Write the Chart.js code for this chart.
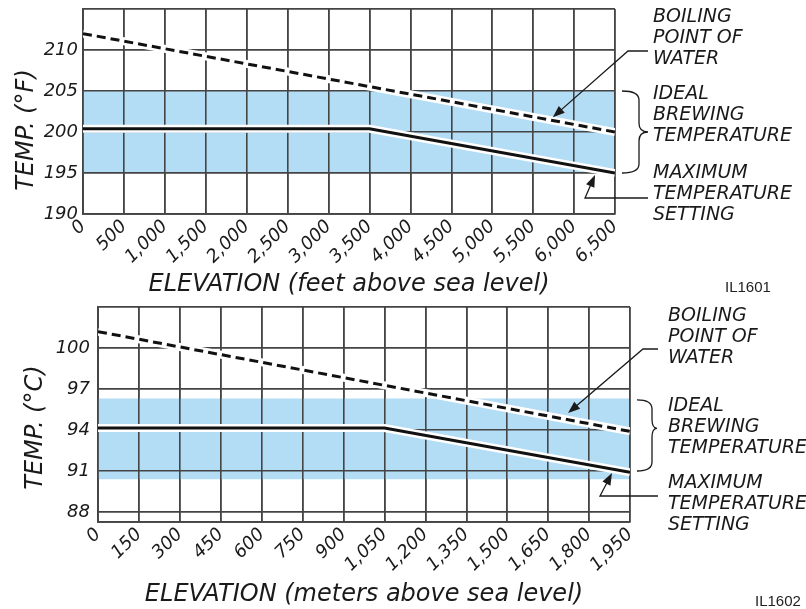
<!DOCTYPE html>
<html><head><meta charset="utf-8">
<script src="https://cdn.jsdelivr.net/npm/chart.js@4.4.0/dist/chart.umd.min.js"></script>
<style>
html,body{margin:0;padding:0;background:#fff;width:806px;height:609px;overflow:hidden}
.box{position:absolute;left:0;width:806px}
#b1{top:0;height:300px}
#b2{top:300px;height:309px}
canvas{display:block}
</style></head><body>
<div class="box" id="b1"><canvas id="c1" width="806" height="300"></canvas></div>
<div class="box" id="b2"><canvas id="c2" width="806" height="309"></canvas></div>
<script>
// ---------- Top chart: °F vs elevation in feet ----------
const feetTicks = [0,500,1000,1500,2000,2500,3000,3500,4000,4500,5000,5500,6000,6500];
const feetTickLabels = ['0','500','1,000','1,500','2,000','2,500','3,000','3,500','4,000','4,500','5,000','5,500','6,000','6,500'];
const fTicks = [190,195,200,205,210,215];
const fTickLabels = ['190','195','200','205','210',''];
const boilFeet = [0, 6500];
const boilF = [212, 200];
const maxFeet = [0, 3500, 6500];
const maxF = [200.4, 200.4, 195];
const bandFeet = [0, 6500];
const bandFHigh = [205, 205];
const bandFLow = [195, 195];

// ---------- Bottom chart: °C vs elevation in meters ----------
const meterTicks = [0,150,300,450,600,750,900,1050,1200,1350,1500,1650,1800,1950];
const meterTickLabels = ['0','150','300','450','600','750','900','1,050','1,200','1,350','1,500','1,650','1,800','1,950'];
const cTicks = [87.27,88,91,94,97,100,103];
const cTickLabels = ['','88','91','94','97','100',''];
const boilMeters = [0, 1950];
const boilC = [101.2, 93.9];
const maxMeters = [0, 1050, 1950];
const maxC = [94.15, 94.15, 90.9];
const bandMeters = [0, 1950];
const bandCHigh = [96.3, 96.3];
const bandCLow = [90.4, 90.4];

const FONT = 'DejaVu Sans';
const INK = '#1a1a1a';
const GRID = '#444';
const BAND = '#b3dcf5';

function pts(xs, ys) { return xs.map((x, i) => ({x: x, y: ys[i]})); }

const gridOverBand = {
  id: 'gridOverBand',
  afterDatasetDraw(chart, args) {
    const ds = chart.data.datasets[args.index];
    if (ds && ds.isBand) {
      const ca = chart.chartArea;
      chart.scales.x.drawGrid(ca);
      chart.scales.y.drawGrid(ca);
      if (chart.scales.x.drawBorder) chart.scales.x.drawBorder();
      if (chart.scales.y.drawBorder) chart.scales.y.drawBorder();
    }
  }
};

function arrowTo(ctx, ptsArr) {
  const n = ptsArr.length;
  const tip = ptsArr[n - 1], prev = ptsArr[n - 2];
  const dx = tip[0] - prev[0], dy = tip[1] - prev[1];
  const L = Math.hypot(dx, dy); const ux = dx / L, uy = dy / L;
  const hl = 12, hw = 4.5;
  ctx.beginPath();
  ctx.moveTo(ptsArr[0][0], ptsArr[0][1]);
  for (let i = 1; i < n - 1; i++) ctx.lineTo(ptsArr[i][0], ptsArr[i][1]);
  ctx.lineTo(tip[0] - ux * (hl - 2), tip[1] - uy * (hl - 2));
  ctx.stroke();
  ctx.beginPath();
  ctx.moveTo(tip[0], tip[1]);
  ctx.lineTo(tip[0] - ux * hl - uy * hw, tip[1] - uy * hl + ux * hw);
  ctx.lineTo(tip[0] - ux * hl + uy * hw, tip[1] - uy * hl - ux * hw);
  ctx.closePath();
  ctx.fill();
}

function brace(ctx, x0, xm, x1, yT, yM, yB) {
  const r = 9;
  ctx.beginPath();
  ctx.moveTo(x0, yT);
  ctx.quadraticCurveTo(xm, yT, xm, yT + r);
  ctx.lineTo(xm, yM - r);
  ctx.quadraticCurveTo(xm, yM, x1, yM);
  ctx.quadraticCurveTo(xm, yM, xm, yM + r);
  ctx.lineTo(xm, yB - r);
  ctx.quadraticCurveTo(xm, yB, x0, yB);
  ctx.stroke();
}

const annotations = {
  id: 'annotations',
  afterDraw(chart, args, o) {
    const ctx = chart.ctx, ca = chart.chartArea, xs = chart.scales.x, ys = chart.scales.y;
    ctx.save();
    ctx.fillStyle = INK; ctx.strokeStyle = INK;
    ctx.font = 'italic 19px "' + FONT + '"';
    ctx.textAlign = 'left'; ctx.textBaseline = 'middle';
    o.groups.forEach(g => g.lines.forEach((t, i) => ctx.fillText(t, ca.right + o.textDx, g.y + i * o.lh)));
    ctx.lineWidth = 1.3;
    o.arrows.forEach(a => {
      const p = a.path.map(q => [ca.right + q[0], q[1]]);
      p.push([xs.getPixelForValue(a.tip[0]), ys.getPixelForValue(a.tip[1])]);
      arrowTo(ctx, p);
    });
    const b = o.brace;
    const yT = ys.getPixelForValue(b.hi), yB = ys.getPixelForValue(b.lo);
    brace(ctx, ca.right + b.dx[0], ca.right + b.dx[1], ca.right + b.dx[2], yT, yT + (yB - yT) * b.tip, yB);
    // y-axis title
    ctx.save();
    ctx.translate(o.yTitle.x, o.yTitle.y);
    ctx.rotate(-Math.PI / 2);
    ctx.textAlign = 'center'; ctx.textBaseline = 'alphabetic';
    ctx.font = 'italic 24px "' + FONT + '"';
    ctx.fillText(o.yTitle.text, 0, 0);
    ctx.restore();
    // figure code
    ctx.font = '15px "Liberation Sans"';
    ctx.fillStyle = '#222';
    ctx.fillText(o.code.text, o.code.x, o.code.y);
    ctx.restore();
  }
};

function makeChart(id, c) {
  return new Chart(document.getElementById(id), {
    type: 'line',
    data: {
      datasets: [
        {data: pts(c.bandX, c.bandHi), isBand: true, fill: '+1', backgroundColor: BAND, borderWidth: 0, pointRadius: 0, order: 10},
        {data: pts(c.bandX, c.bandLo), fill: false, borderWidth: 0, pointRadius: 0, order: 11},
        {data: pts(c.boilX, c.boilY), borderColor: '#fff', borderWidth: 8, pointRadius: 0, fill: false, order: 4},
        {data: pts(c.boilX, c.boilY), borderColor: '#111', borderWidth: 3, borderDash: [9, 5], pointRadius: 0, fill: false, order: 3},
        {data: pts(c.maxX, c.maxY), borderColor: '#fff', borderWidth: 8, pointRadius: 0, fill: false, order: 2},
        {data: pts(c.maxX, c.maxY), borderColor: '#111', borderWidth: 3, pointRadius: 0, fill: false, order: 1}
      ]
    },
    plugins: [gridOverBand, annotations],
    options: {
      responsive: false, animation: false, events: [],
      layout: {padding: {left: 0, right: c.padRight, top: c.padTop, bottom: 0}},
      elements: {line: {tension: 0, borderCapStyle: 'butt'}},
      plugins: {legend: {display: false}, tooltip: {enabled: false}, annotations: c.annot},
      scales: {
        x: {
          type: 'linear', min: c.xTicks[0], max: c.xTicks[c.xTicks.length - 1],
          afterBuildTicks: s => { s.ticks = c.xTicks.map(v => ({value: v})); },
          afterFit: s => { s.height = c.xH; s.paddingLeft = 0; s.paddingRight = 0; },
          grid: {color: GRID, lineWidth: 1.6, drawTicks: false},
          border: {color: GRID, width: 1.6},
          ticks: {autoSkip: false, minRotation: 45, maxRotation: 45, padding: 2, color: INK,
            font: {family: FONT, size: 18, style: 'italic'},
            callback: v => c.xLabels[c.xTicks.indexOf(v)]},
          title: {display: true, text: c.xTitle, color: INK, padding: {top: 0, bottom: c.xTitlePad},
            font: {family: FONT, size: 24, style: 'italic'}}
        },
        y: {
          type: 'linear', min: c.yTicks[0], max: c.yTicks[c.yTicks.length - 1],
          afterBuildTicks: s => { s.ticks = c.yTicks.map(v => ({value: v})); },
          afterFit: s => { s.width = c.yW; s.paddingTop = 0; s.paddingBottom = 0; },
          grid: {color: GRID, lineWidth: 1.6, drawTicks: false},
          border: {color: GRID, width: 1.6},
          ticks: {padding: c.yPad, color: INK, font: {family: FONT, size: 18, style: 'italic'},
            callback: v => c.yLabels[c.yTicks.indexOf(v)]}
        }
      }
    }
  });
}

makeChart('c1', {
  bandX: bandFeet, bandHi: bandFHigh, bandLo: bandFLow,
  boilX: boilFeet, boilY: boilF, maxX: maxFeet, maxY: maxF,
  xTicks: feetTicks, xLabels: feetTickLabels, yTicks: fTicks, yLabels: fTickLabels,
  xTitle: 'ELEVATION (feet above sea level)', xTitlePad: 1,
  padRight: 191, padTop: 9, xH: 86, yW: 83, yPad: 5,
  annot: {
    textDx: 38, lh: 21,
    groups: [
      {y: 17, lines: ['BOILING', 'POINT OF', 'WATER']},
      {y: 94, lines: ['IDEAL', 'BREWING', 'TEMPERATURE']},
      {y: 173.5, lines: ['MAXIMUM', 'TEMPERATURE', 'SETTING']}
    ],
    arrows: [
      {path: [[33, 51], [13, 51]], tip: [5740, 201.8]},
      {path: [[33, 198], [-30, 198]], tip: [6256, 194.75]}
    ],
    brace: {hi: 205, lo: 195, tip: 0.5, dx: [7, 24, 33]},
    yTitle: {text: 'TEMP. (°F)', x: 33, y: 130},
    code: {text: 'IL1601', x: 725, y: 288}
  }
});

makeChart('c2', {
  bandX: bandMeters, bandHi: bandCHigh, bandLo: bandCLow,
  boilX: boilMeters, boilY: boilC, maxX: maxMeters, maxY: maxC,
  xTicks: meterTicks, xLabels: meterTickLabels, yTicks: cTicks, yLabels: cTickLabels,
  xTitle: 'ELEVATION (meters above sea level)', xTitlePad: 0,
  padRight: 176, padTop: 7, xH: 87, yW: 98, yPad: 8,
  annot: {
    textDx: 38, lh: 21,
    groups: [
      {y: 16, lines: ['BOILING', 'POINT OF', 'WATER']},
      {y: 106, lines: ['IDEAL', 'BREWING', 'TEMPERATURE']},
      {y: 183, lines: ['MAXIMUM', 'TEMPERATURE', 'SETTING']}
    ],
    arrows: [
      {path: [[28, 49], [13, 49]], tip: [1723, 95.24]},
      {path: [[28, 196], [-30, 196]], tip: [1884, 90.85]}
    ],
    brace: {hi: 96.2, lo: 91, tip: 0.4, dx: [7, 22, 27]},
    yTitle: {text: 'TEMP. (°C)', x: 42, y: 127.5},
    code: {text: 'IL1602', x: 755, y: 302}
  }
});
</script>
</body></html>
